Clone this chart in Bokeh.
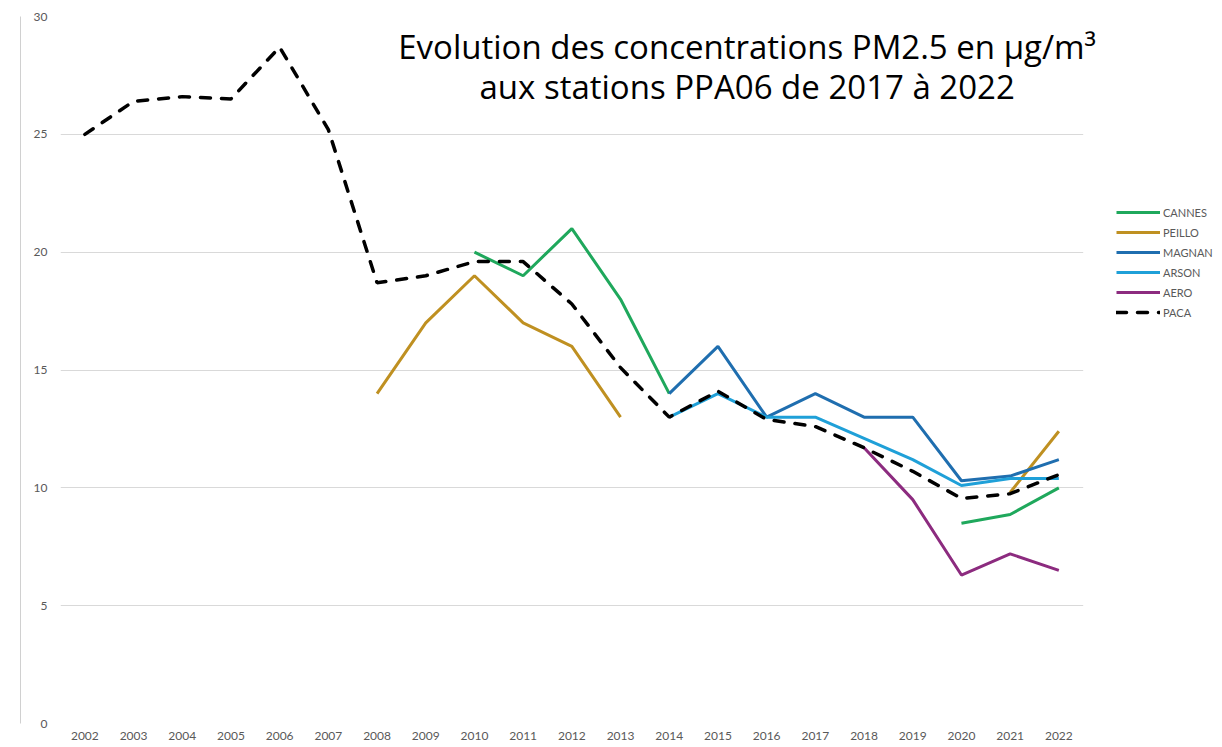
from bokeh.plotting import figure
from bokeh.models import (Range1d, Legend, LegendItem, Label, FixedTicker,
                          ColumnDataSource, BoxAnnotation, LinearAxis)
from bokeh.embed import file_html
from bokeh.resources import INLINE

nan = float("nan")

years = [2002, 2003, 2004, 2005, 2006, 2007, 2008, 2009, 2010, 2011, 2012,
         2013, 2014, 2015, 2016, 2017, 2018, 2019, 2020, 2021, 2022]

cannes = [nan, nan, nan, nan, nan, nan, nan, nan, 20.0, 19.0, 21.0,
          18.0, 14.0, nan, nan, nan, nan, nan, 8.5, 8.87, 10.0]
peillo = [nan, nan, nan, nan, nan, nan, 14.0, 17.0, 19.0, 17.0, 16.0,
          13.0, nan, nan, nan, nan, nan, nan, nan, 9.8, 12.4]
magnan = [nan, nan, nan, nan, nan, nan, nan, nan, nan, nan, nan,
          nan, 14.0, 16.0, 13.0, 14.0, 13.0, 13.0, 10.3, 10.5, 11.2]
arson = [nan, nan, nan, nan, nan, nan, nan, nan, nan, nan, nan,
         nan, 13.0, 14.0, 13.0, 13.0, 12.1, 11.2, 10.1, 10.4, 10.4]
aero = [nan, nan, nan, nan, nan, nan, nan, nan, nan, nan, nan,
        nan, nan, nan, nan, nan, 11.7, 9.5, 6.3, 7.2, 6.5]
paca = [25.0, 26.4, 26.6, 26.5, 28.7, 25.2, 18.7, 19.0, 19.6, 19.6, 17.8,
        15.1, 13.0, 14.1, 12.9, 12.6, 11.7, 10.7, 9.55, 9.75, 10.56]

y_ticks = [0, 5, 10, 15, 20, 25, 30]

series_names = ["CANNES", "PEILLO", "MAGNAN", "ARSON", "AERO", "PACA"]
series_values = [cannes, peillo, magnan, arson, aero, paca]
series_colors = ["#1fa85c", "#bf9021", "#1f6eaf", "#1fa0d8", "#8c2b7f", "#000000"]

title_line1 = "Evolution des concentrations PM2.5 en µg/m³"
title_line2 = "aux stations PPA06 de 2017 à 2022"

FONT = "Lato"
TITLE_FONT = "Open Sans"

W, H = 1222, 747
LEFT, TOP, BOTTOM = 60, 16, 24
BAND = 48.7                     # pixels per year (Excel category band)
x_start = years[0] - 0.5
x_end = x_start + (W - LEFT) / BAND
plot_end = years[-1] + 0.5     # right end of the Excel plot area

p = figure(width=W, height=H, output_backend="svg", toolbar_location=None,
           x_range=Range1d(x_start, x_end), y_range=Range1d(0, 30),
           min_border_left=LEFT, min_border_top=TOP, min_border_bottom=BOTTOM,
           min_border_right=0)
p.outline_line_color = None
p.background_fill_color = "white"
p.border_fill_color = "white"

p.xgrid.grid_line_color = None
p.ygrid.grid_line_color = "#d9d9d9"
p.ygrid.grid_line_width = 1

# white mask: the plot area of the original stops before the legend
p.add_layout(BoxAnnotation(left=plot_end, fill_color="white", fill_alpha=1.0,
                           line_color=None, level="underlay"))

p.xaxis.ticker = FixedTicker(ticks=years)
p.yaxis.ticker = FixedTicker(ticks=y_ticks)
for ax in (p.xaxis, p.yaxis):
    ax.axis_line_color = None
    ax.major_tick_line_color = None
    ax.minor_tick_line_color = None
    ax.major_tick_out = 0
    ax.major_tick_in = 0
    ax.minor_tick_out = 0
    ax.major_label_text_color = "#595959"
    ax.major_label_text_font = FONT
    ax.major_label_text_font_size = "12px"
p.xaxis.major_label_standoff = 8
p.yaxis.major_label_standoff = 13
# invisible axis label only to widen the inner axis panel
p.yaxis.axis_label = " "
p.yaxis.axis_label_standoff = 0
p.yaxis.axis_label_text_font_size = "7px"

# thin grey vertical rule at the far left (edge of a neighbouring chart)
edge_axis = LinearAxis(ticker=FixedTicker(ticks=[]), major_tick_out=0,
                       major_tick_in=0, minor_tick_out=0, minor_tick_in=0,
                       axis_line_color="#d0d0d0", axis_line_width=1,
                       major_label_text_font_size="0px")
p.add_layout(edge_axis, "left")

items = []
for name, vals, col in zip(series_names, series_values, series_colors):
    src = ColumnDataSource(dict(x=years, y=vals))
    if name == "PACA":
        r = p.line("x", "y", source=src, line_color=col, line_width=3.5,
                   line_dash="10 11", line_cap="round")
    else:
        r = p.line("x", "y", source=src, line_color=col, line_width=3)
    items.append(LegendItem(label=name, renderers=[r]))

legend = Legend(items=items, location=(1056, 404), orientation="vertical",
                glyph_width=44, glyph_height=14, label_height=14,
                label_standoff=3, spacing=6, padding=0, margin=0,
                border_line_color=None, background_fill_alpha=0,
                label_text_font=FONT, label_text_font_size="11px",
                label_text_color="#595959")
p.add_layout(legend, "center")

p.add_layout(Label(x=2015.6, y=28.71, text=title_line1, text_align="center",
                   text_baseline="alphabetic", text_font=TITLE_FONT,
                   text_font_size="33px", text_color="#000000"))
p.add_layout(Label(x=2015.6, y=27.01, text=title_line2, text_align="center",
                   text_baseline="alphabetic", text_font=TITLE_FONT,
                   text_font_size="33px", text_color="#000000"))

open("out.html", "w").write(file_html(p, INLINE))
